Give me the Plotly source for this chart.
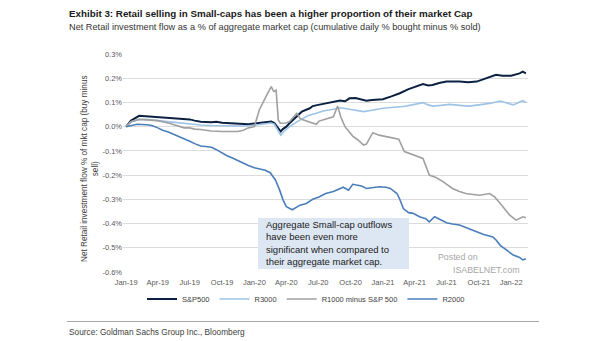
import plotly.graph_objects as go

# ---------------- data (values in %) ----------------
sp_dates = ["2019-01-01","2019-01-15","2019-02-07","2019-03-01","2019-04-01","2019-05-01","2019-06-01",
            "2019-07-01","2019-07-15","2019-08-01","2019-09-01","2019-09-15","2019-10-01","2019-11-01",
            "2019-12-01","2019-12-15","2020-01-01","2020-01-15","2020-02-01","2020-02-18","2020-02-27",
            "2020-03-06","2020-03-16","2020-03-22","2020-04-01","2020-04-10","2020-04-21","2020-05-01",
            "2020-05-15","2020-06-07","2020-06-15","2020-07-01","2020-07-25","2020-08-13","2020-09-01",
            "2020-09-15","2020-09-28","2020-10-15","2020-11-01","2020-11-15","2020-12-01","2021-01-01",
            "2021-01-25","2021-02-18","2021-03-15","2021-04-06","2021-04-25","2021-05-10","2021-05-22",
            "2021-06-10","2021-07-01","2021-08-07","2021-09-01","2021-09-25","2021-10-22","2021-11-19",
            "2021-12-07","2022-01-01","2022-01-25","2022-02-03","2022-02-12"]
sp_vals = [0.000,0.025,0.045,0.043,0.040,0.037,0.035,
           0.030,0.025,0.020,0.018,0.020,0.016,0.014,
           0.012,0.010,0.013,0.015,0.018,0.021,0.015,
           0.000,-0.020,-0.010,0.000,0.014,0.030,0.045,
           0.062,0.076,0.085,0.090,0.097,0.103,0.108,
           0.105,0.117,0.118,0.113,0.107,0.110,0.113,
           0.125,0.138,0.155,0.168,0.176,0.170,0.172,
           0.180,0.186,0.186,0.183,0.186,0.200,0.214,
           0.210,0.210,0.220,0.227,0.220]

r3_dates = ["2019-01-01","2019-01-15","2019-02-07","2019-03-01","2019-04-01","2019-05-01","2019-06-01",
            "2019-07-01","2019-08-01","2019-09-01","2019-10-01","2019-11-01","2019-12-01","2020-01-01",
            "2020-02-01","2020-02-18","2020-02-27","2020-03-06","2020-03-16","2020-03-25","2020-04-10",
            "2020-05-01","2020-05-10","2020-06-01","2020-06-25","2020-07-15","2020-08-13","2020-09-01",
            "2020-09-15","2020-10-01","2020-10-15","2020-11-07","2020-12-01","2021-01-01","2021-02-01",
            "2021-02-28","2021-03-25","2021-04-25","2021-05-10","2021-05-22","2021-06-15","2021-07-10",
            "2021-08-07","2021-09-03","2021-10-01","2021-11-01","2021-12-01","2021-12-18","2022-01-07",
            "2022-01-22","2022-02-03","2022-02-12"]
r3_vals = [0.000,0.020,0.030,0.030,0.025,0.020,0.015,
           0.010,0.007,0.005,0.004,0.003,0.003,0.006,
           0.010,0.015,0.010,-0.010,-0.035,-0.020,0.000,
           0.020,0.028,0.045,0.055,0.065,0.072,0.078,
           0.075,0.072,0.068,0.062,0.068,0.076,0.080,
           0.083,0.090,0.099,0.090,0.085,0.088,0.092,
           0.088,0.085,0.090,0.096,0.106,0.100,0.090,
           0.100,0.107,0.100]

r1_dates = ["2019-01-01","2019-01-15","2019-02-07","2019-03-01","2019-04-01","2019-05-01","2019-06-01",
            "2019-06-15","2019-07-01","2019-07-15","2019-08-01","2019-09-01","2019-10-01","2019-11-01",
            "2019-11-15","2019-12-01","2019-12-15","2020-01-01","2020-01-15","2020-02-03","2020-02-18",
            "2020-02-25","2020-03-03","2020-03-09","2020-03-15","2020-04-01","2020-04-10","2020-05-01",
            "2020-05-10","2020-05-18","2020-06-07","2020-06-25","2020-07-03","2020-07-22","2020-08-13",
            "2020-08-25","2020-09-03","2020-09-15","2020-10-07","2020-10-22","2020-11-07","2020-11-15",
            "2020-12-03","2020-12-21","2021-01-13","2021-02-15","2021-03-03","2021-03-28","2021-04-25",
            "2021-05-13","2021-06-01","2021-06-21","2021-07-18","2021-08-07","2021-08-25","2021-09-15",
            "2021-10-03","2021-11-01","2021-11-15","2021-12-01","2021-12-15","2021-12-28","2022-01-15",
            "2022-01-25","2022-02-03","2022-02-12"]
r1_vals = [0.000,0.020,0.030,0.028,0.025,0.015,0.000,
           -0.005,-0.005,-0.010,-0.012,-0.018,-0.020,-0.022,
           -0.020,-0.015,-0.005,0.000,0.069,0.124,0.165,
           0.145,0.150,0.028,0.014,0.015,0.021,0.055,
           0.034,0.028,0.020,0.010,0.023,0.030,0.041,
           0.085,0.040,0.000,-0.039,-0.055,-0.076,-0.072,
           -0.025,-0.035,-0.041,-0.052,-0.103,-0.117,-0.131,
           -0.200,-0.210,-0.227,-0.255,-0.268,-0.276,-0.280,
           -0.283,-0.276,-0.290,-0.317,-0.340,-0.365,-0.386,
           -0.380,-0.372,-0.376]

r2_dates = ["2019-01-01","2019-01-15","2019-02-01","2019-03-01","2019-03-15","2019-04-01","2019-04-15",
            "2019-05-01","2019-05-15","2019-06-01","2019-06-15","2019-07-01","2019-07-15","2019-08-01",
            "2019-08-15","2019-09-01","2019-09-15","2019-10-01","2019-10-15","2019-11-01","2019-11-15",
            "2019-12-01","2019-12-15","2020-01-01","2020-01-15","2020-02-01","2020-02-15","2020-03-01",
            "2020-03-13","2020-03-22","2020-04-01","2020-04-18","2020-05-10","2020-05-28","2020-06-15",
            "2020-07-03","2020-07-22","2020-08-13","2020-09-10","2020-09-25","2020-10-07","2020-11-01",
            "2020-11-15","2020-12-03","2020-12-21","2021-01-10","2021-01-22","2021-02-10","2021-02-18",
            "2021-02-28","2021-03-15","2021-03-28","2021-04-15","2021-05-03","2021-05-13","2021-05-28",
            "2021-06-13","2021-07-01","2021-07-18","2021-08-07","2021-09-01","2021-09-25","2021-10-15",
            "2021-11-10","2021-11-19","2021-12-01","2021-12-18","2022-01-07","2022-01-25","2022-02-03",
            "2022-02-12"]
r2_vals = [0.000,0.005,0.010,0.008,0.005,-0.005,-0.015,
           -0.022,-0.030,-0.040,-0.050,-0.060,-0.070,-0.080,
           -0.082,-0.085,-0.095,-0.110,-0.120,-0.130,-0.140,
           -0.150,-0.160,-0.170,-0.175,-0.180,-0.190,-0.220,
           -0.262,-0.300,-0.330,-0.343,-0.324,-0.317,-0.300,
           -0.290,-0.276,-0.268,-0.250,-0.262,-0.238,-0.245,
           -0.255,-0.250,-0.248,-0.250,-0.255,-0.276,-0.300,
           -0.338,-0.355,-0.358,-0.372,-0.380,-0.393,-0.372,
           -0.385,-0.397,-0.402,-0.406,-0.420,-0.434,-0.445,
           -0.455,-0.468,-0.490,-0.510,-0.530,-0.540,-0.550,
           -0.545]

series_names = ["S&P500", "R3000", "R1000 minus S&P 500", "R2000"]
y_ticks = [0.3, 0.2, 0.1, 0.0, -0.1, -0.2, -0.3, -0.4, -0.5, -0.6]
y_tick_labels = ["0.3%", "0.2%", "0.1%", "0.0%", "-0.1%", "-0.2%", "-0.3%", "-0.4%", "-0.5%", "-0.6%"]

title_text = "Exhibit 3: Retail selling in Small-caps has been a higher proportion of their market Cap"
subtitle_text = "Net Retail investment flow as a % of aggregate market cap (cumulative daily % bought minus % sold)"
ytitle_text = "Net Retail investment flow % of mkt cap (buy minus<br>sell)"
box_text = ("Aggregate Small-cap outflows<br>have been even more<br>"
            "significant when compared to<br>their aggregate market cap.")
source_text = "Source: Goldman Sachs Group Inc., Bloomberg"

# ---------------- figure ----------------
W, H = 605, 341
L, R, T, B = 123, 77, 54, 69
PW, PH = W - L - R, H - T - B

def px(x):
    return (x - L) / PW

def py(y):
    return 1 - (y - T) / PH

colors = ["#0c2142", "#9dc3e6", "#a0a0a0", "#4a7ebb"]
widths = [2.0, 1.6, 1.6, 1.6]
xs = [sp_dates, r3_dates, r1_dates, r2_dates]
ys = [sp_vals, r3_vals, r1_vals, r2_vals]

fig = go.Figure()
for name, x, y, c, w in zip(series_names, xs, ys, colors, widths):
    fig.add_trace(go.Scatter(x=x, y=y, mode="lines", name=name,
                             line=dict(color=c, width=w)))

base = "Liberation Sans, Arial, sans-serif"

fig.update_layout(
    width=W, height=H,
    margin=dict(l=L, r=R, t=T, b=B, pad=0),
    paper_bgcolor="white", plot_bgcolor="white",
    font=dict(family=base, size=8, color="#595959"),
    showlegend=True,
    legend=dict(orientation="h", x=px(306), y=py(299), xanchor="center", yanchor="middle",
                font=dict(family=base, size=7.5, color="#404040"), itemwidth=30,
                bgcolor="rgba(0,0,0,0)"),
    xaxis=dict(type="date", range=["2018-12-23", "2022-02-18"], tick0="2019-01-01",
               dtick="M3", tickformat="%b-%y", showgrid=False, zeroline=False,
               showline=False, ticks="outside", ticklen=3, tickcolor="rgba(0,0,0,0)",
               tickfont=dict(family=base, size=7.5, color="#595959")),
    yaxis=dict(range=[-0.6, 0.3], tickmode="array", tickvals=y_ticks, ticktext=y_tick_labels,
               showgrid=True, gridcolor="#dcdcdc", gridwidth=0.8, zeroline=False,
               showline=False, ticks="", tickfont=dict(family=base, size=7.5, color="#595959")),
)

shapes = [
    dict(type="rect", xref="paper", yref="paper", x0=px(258), x1=px(409), y0=py(269), y1=py(218),
         fillcolor="#dde7f3", line=dict(width=0), layer="above"),
    dict(type="line", xref="paper", yref="paper", x0=px(67), x1=px(539), y0=py(321.5), y1=py(321.5),
         line=dict(color="#a6a6a6", width=1)),
]
fig.update_layout(shapes=shapes)

annotations = [
    dict(text="<b>" + title_text + "</b>", xref="paper", yref="paper", x=px(67), y=py(13.5),
         xanchor="left", yanchor="middle", showarrow=False,
         font=dict(family=base, size=9.8, color="#1a1a1a")),
    dict(text=subtitle_text, xref="paper", yref="paper", x=px(67), y=py(26.5),
         xanchor="left", yanchor="middle", showarrow=False,
         font=dict(family=base, size=9.2, color="#333333")),
    dict(text=ytitle_text, xref="paper", yref="paper", x=px(89.5), y=py(168.5),
         xanchor="center", yanchor="middle", textangle=-90, showarrow=False,
         font=dict(family=base, size=8.2, color="#404040")),
    dict(text=box_text, xref="paper", yref="paper", x=px(264), y=py(242.5),
         xanchor="left", yanchor="middle", align="left", showarrow=False,
         font=dict(family=base, size=9.5, color="#1a1a1a")),
    dict(text="Posted on", xref="paper", yref="paper", x=px(436), y=py(257),
         xanchor="left", yanchor="middle", showarrow=False,
         font=dict(family=base, size=8.8, color="#a6a6a6")),
    dict(text="ISABELNET.com", xref="paper", yref="paper", x=px(451), y=py(269.5),
         xanchor="left", yanchor="middle", showarrow=False,
         font=dict(family=base, size=8.8, color="#a6a6a6")),
    dict(text=source_text, xref="paper", yref="paper", x=px(67), y=py(331.5),
         xanchor="left", yanchor="middle", showarrow=False,
         font=dict(family=base, size=8.3, color="#404040")),
]
fig.update_layout(annotations=annotations)

fig.write_html("out.html")
